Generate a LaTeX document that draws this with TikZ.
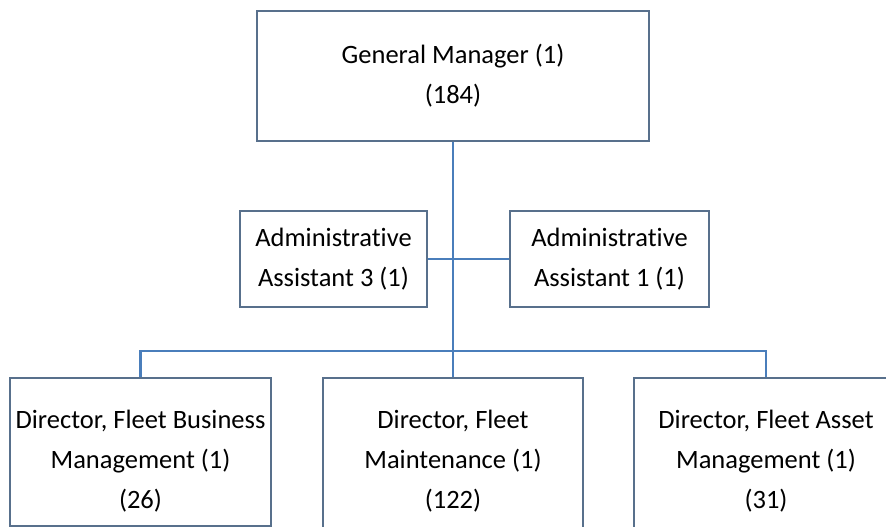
\documentclass[tikz,border=0pt]{standalone}
\usepackage{fontspec}
\setmainfont{Carlito}[Ligatures=NoCommon]
\definecolor{conn}{RGB}{74,126,187}
\definecolor{boxline}{RGB}{88,112,140}
\begin{document}
\begin{tikzpicture}[x=1pt,y=-1pt,
  orgbox/.style={draw=boxline, line width=2.2pt, fill=white, rectangle, align=center,
    inner sep=0pt, font=\fontsize{26.5}{40}\selectfont},
  link/.style={draw=conn, line width=2.8pt}]
\useasboundingbox (0,0) rectangle (886,527);
% boxes
\node[orgbox, minimum width=392, minimum height=130] (gm) at (453,76)
  {General Manager (1)\\(184)};
\node[orgbox, minimum width=187, minimum height=96] (a3) at (333.5,259)
  {Administrative\\Assistant 3 (1)};
\node[orgbox, minimum width=199, minimum height=96] (a1) at (609.5,259)
  {Administrative\\Assistant 1 (1)};
\node[orgbox, minimum width=261, minimum height=148] (d1) at (140.5,452)
  {\rule{0pt}{36pt}Director, Fleet Business\\Management (1)\\(26)};
\node[orgbox, minimum width=260, minimum height=160] (d2) at (453,458)
  {\rule{0pt}{24pt}Director, Fleet\\Maintenance (1)\\(122)};
\node[orgbox, minimum width=264, minimum height=160] (d3) at (766,458)
  {\rule{0pt}{24pt}Director, Fleet Asset\\Management (1)\\(31)};
\coordinate (bus) at (453,351);
% connectors
\draw[link] (a3.east) -- (a1.west);
\draw[link] (d1.north) |- (bus) -| (d3.north);
\draw[link] (gm.south) -- (d2.north);
\end{tikzpicture}
\end{document}
